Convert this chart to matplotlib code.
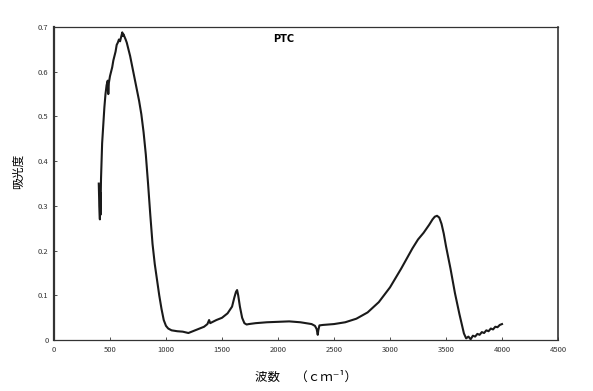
import numpy as np
import matplotlib
matplotlib.use("Agg")
import matplotlib.pyplot as plt

plt.rcParams["font.family"] = ["Noto Sans CJK JP", "DejaVu Sans"]

# IR spectrum of PTC
wavenumber = [400, 405, 410, 412, 415, 420, 425, 430, 440, 450, 460, 470, 480, 485, 490,
              500, 510, 520, 530, 540, 550, 560, 570, 580, 590, 600, 610, 615, 620, 630,
              640, 650, 660, 680, 700, 720, 740, 760, 780, 800, 820, 840, 860, 880, 900,
              920, 940, 960, 980, 1000, 1020, 1050, 1100, 1150, 1200, 1250, 1300, 1340,
              1370, 1385, 1395, 1410, 1450, 1500, 1550, 1590, 1610, 1625, 1635, 1645,
              1660, 1680, 1700, 1720, 1740, 1800, 1900, 2000, 2100, 2200, 2300, 2330,
              2345, 2355, 2360, 2370, 2400, 2500, 2600, 2700, 2800, 2900, 3000, 3100,
              3200, 3250, 3300, 3350, 3380, 3400, 3420, 3440, 3460, 3480, 3500, 3540,
              3580, 3620, 3660, 3680, 3700, 3720, 3740, 3760, 3780, 3800, 3820, 3840,
              3860, 3880, 3900, 3920, 3940, 3960, 3980, 4000]
absorbance = [0.35, 0.30, 0.27, 0.33, 0.28, 0.36, 0.40, 0.44, 0.48, 0.52, 0.55, 0.57, 0.58, 0.55, 0.575,
              0.59, 0.60, 0.61, 0.625, 0.635, 0.645, 0.66, 0.665, 0.672, 0.668, 0.678, 0.688, 0.68, 0.684, 0.678,
              0.672, 0.665, 0.655, 0.635, 0.61, 0.585, 0.56, 0.535, 0.505, 0.465, 0.415, 0.35, 0.28, 0.215, 0.17,
              0.135, 0.10, 0.07, 0.045, 0.032, 0.026, 0.022, 0.020, 0.019, 0.016, 0.021, 0.026, 0.030,
              0.036, 0.045, 0.038, 0.040, 0.045, 0.050, 0.060, 0.075, 0.095, 0.108, 0.112, 0.100,
              0.075, 0.050, 0.038, 0.035, 0.036, 0.038, 0.040, 0.041, 0.042, 0.040, 0.036, 0.032,
              0.025, 0.012, 0.022, 0.033, 0.034, 0.036, 0.040, 0.048, 0.062, 0.085, 0.118, 0.160,
              0.205, 0.225, 0.240, 0.258, 0.270, 0.276, 0.278, 0.274, 0.260, 0.238, 0.210, 0.160,
              0.105, 0.058, 0.015, 0.004, 0.008, 0.002, 0.010, 0.008, 0.014, 0.012, 0.018, 0.016,
              0.022, 0.020, 0.026, 0.024, 0.030, 0.029, 0.034, 0.036]
x_ticks = [0, 500, 1000, 1500, 2000, 2500, 3000, 3500, 4000, 4500]
y_ticks = [0, 0.1, 0.2, 0.3, 0.4, 0.5, 0.6, 0.7]
y_tick_labels = ["0", "0.1", "0.2", "0.3", "0.4", "0.5", "0.6", "0.7"]

fig = plt.figure(figsize=(5.93, 3.91), dpi=100)
ax = fig.add_axes([0.091, 0.130, 0.850, 0.801])
ax.plot(wavenumber, absorbance, color="#1a1a1a", lw=1.5)

ax.set_xlim(0, 4500)
ax.set_ylim(0, 0.7)
ax.set_xticks(x_ticks)
ax.set_yticks(y_ticks)
ax.set_yticklabels(y_tick_labels)
ax.tick_params(direction="in", length=2, width=0.6, labelsize=5.5, pad=4, colors="#333333")
for s in ax.spines.values():
    s.set_color("#333333")
    s.set_linewidth(0.9)
ax.spines["left"].set_linewidth(1.6)
ax.spines["right"].set_linewidth(1.2)

ax.text(2050, 0.685, "PTC", ha="center", va="top", fontsize=7, fontweight="bold",
        family="DejaVu Sans")
ax.set_ylabel("吸光度", fontsize=8.5)
ax.yaxis.set_label_coords(-0.058, 0.54)
ax.set_xlabel("波数　 （ｃｍ⁻¹）", fontsize=9, labelpad=12)

fig.savefig("out.png", dpi=100)
